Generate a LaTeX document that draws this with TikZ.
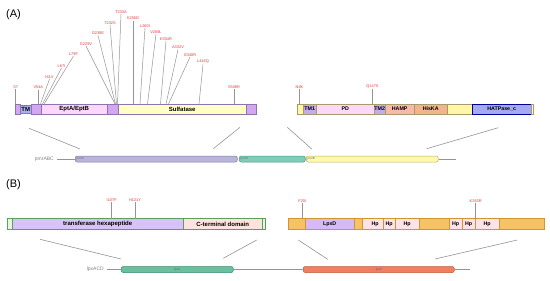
\documentclass[tikz,border=0pt]{standalone}
\usepackage{fontspec}
\setmainfont{Liberation Sans}
\definecolor{mutred}{HTML}{E23A3A}
\definecolor{linegray}{HTML}{959595}
\definecolor{purp}{HTML}{D3A6F2}
\definecolor{tmblue}{HTML}{A9B0F2}
\definecolor{pinkdom}{HTML}{FBD8FA}
\definecolor{sulf}{HTML}{FFFFC6}
\definecolor{bordA}{HTML}{8E74AE}
\definecolor{yel}{HTML}{FFF6A8}
\definecolor{tmone}{HTML}{C4AAF0}
\definecolor{hamp}{HTML}{F7B9AA}
\definecolor{hiska}{HTML}{F2B48C}
\definecolor{hatp}{HTML}{A4AAF2}
\definecolor{bordR}{HTML}{A89A6A}
\definecolor{pmrCc}{HTML}{B9B5D8}
\definecolor{pmrCd}{HTML}{7E7AAA}
\definecolor{pmrAc}{HTML}{7ECDB9}
\definecolor{pmrAd}{HTML}{4A9A88}
\definecolor{pmrBc}{HTML}{FFFAA8}
\definecolor{pmrBd}{HTML}{B8B070}
\definecolor{lgreen}{HTML}{E6F4E0}
\definecolor{gbord}{HTML}{5A9F5A}
\definecolor{transc}{HTML}{D8C2FA}
\definecolor{ctermc}{HTML}{FDE3DE}
\definecolor{orng}{HTML}{F5C265}
\definecolor{obord}{HTML}{D39530}
\definecolor{lpxDp}{HTML}{D6BAF6}
\definecolor{hpc}{HTML}{FDE2E6}
\definecolor{lpxAc}{HTML}{68C09E}
\definecolor{lpxAd}{HTML}{3A8A6C}
\definecolor{lpxDc}{HTML}{EF805F}
\definecolor{lpxDd}{HTML}{C05A3A}
\newcommand\mutn[5]{%
  \node[mutlab] (#1) at (#3,#4) {#2};
  \coordinate (#1b) at (#5,104);
  \draw[mutline] (#1.south) -- (#1b);}
\begin{document}
\begin{tikzpicture}[x=1pt,y=-1pt,
  dom/.style={anchor=west, inner sep=0pt, minimum height=10pt, line width=0.4pt,
    font=\fontsize{6}{7}\selectfont\bfseries},
  domA/.style={dom, draw=bordA},
  domR/.style={dom, draw=bordR, font=\fontsize{5.3}{6}\selectfont\bfseries},
  domG/.style={dom, minimum height=11pt, draw=gbord},
  domO/.style={dom, minimum height=11pt, draw=obord, font=\fontsize{5.3}{6}\selectfont\bfseries},
  mutlab/.style={anchor=south, inner sep=0.6pt, text=mutred, font=\fontsize{3.9}{4.5}\selectfont},
  mutline/.style={draw=linegray, line width=0.5pt},
  conn/.style={draw=linegray, line width=0.6pt},
  gene/.style={anchor=west, inner sep=0pt, minimum height=6pt, rounded corners=2pt, line width=0.5pt},
  genelab/.style={anchor=east, text=gray, font=\fontsize{5}{6}\selectfont, inner sep=1pt},
  genein/.style={anchor=west, text=black!60, font=\fontsize{3}{3.5}\selectfont, inner sep=0pt},
  panel/.style={anchor=west, font=\fontsize{11}{13}\selectfont, inner sep=0pt}]
\useasboundingbox[fill=white] (0,0) rectangle (550,281);

\node[panel] (pA) at (6,15) {(A)};
\node[panel] (pB) at (6,185) {(B)};

% ---------- pmrC protein ----------
\node[domA, fill=purp, minimum width=5pt] (c1) at (15,109) {};
\node[domA, fill=tmblue, minimum width=11pt, minimum height=8pt] (ctm) at (20,109) {TM};
\node[domA, fill=purp, minimum width=10pt] (c2) at (31,109) {};
\node[domA, fill=pinkdom, minimum width=66pt] (cept) at (41,109) {EptA/EptB};
\node[domA, fill=purp, minimum width=11pt] (c3) at (107,109) {};
\node[domA, fill=sulf, minimum width=128pt] (csul) at (118,109) {Sulfatase};
\node[domA, fill=purp, minimum width=10pt] (c4) at (246,109) {};

\mutn{m1}{S7}{15.7}{89}{15.7}
\mutn{m2}{V54A}{38.3}{89.5}{38.3}
\mutn{m3}{I61V}{49.5}{79}{40.5}
\mutn{m4}{L67I}{61.5}{68}{42.5}
\mutn{m5}{L79F}{73.5}{56}{44}
\mutn{m6}{G229V}{86}{46}{115}
\mutn{m7}{D230E}{98}{35.5}{115.5}
\mutn{m8}{T232S}{110}{25}{116.5}
\mutn{m9}{T233A}{121}{14}{117.5}
\mutn{m10}{K256D}{133}{20.5}{133}
\mutn{m11}{L260I}{145}{28}{140}
\mutn{m12}{V269L}{156}{34}{147.5}
\mutn{m13}{E304R}{166}{41}{160.5}
\mutn{m14}{A332V}{178}{49.5}{166}
\mutn{m15}{G340R}{190}{57}{168.5}
\mutn{m16}{L416Q}{203}{64.5}{199}
\mutn{m17}{S508R}{234}{89}{234}

% ---------- pmrB protein ----------
\node[domR, fill=yel, minimum width=6pt] (b1) at (297,109) {};
\node[domR, fill=tmone, minimum width=13pt] (btm1) at (303,109) {TM1};
\node[domR, fill=pinkdom, minimum width=58pt] (bpd) at (316,109) {PD};
\node[domR, fill=tmone, minimum width=11pt] (btm2) at (374,109) {TM2};
\node[domR, fill=hamp, minimum width=29pt] (bhamp) at (385,109) {HAMP};
\node[domR, fill=hiska, minimum width=33pt] (bhis) at (414,109) {HisKA};
\node[domR, fill=yel, minimum width=25pt] (b2) at (447,109) {};
\node[domR, fill=hatp, draw=blue!60!black, minimum width=59pt] (bhat) at (472,109) {HATPase\_c};
\node[domR, fill=yel!50, minimum width=2pt] (b3) at (531,109) {};

\mutn{r1}{N8K}{299.5}{89}{299.5}
\mutn{r2}{Q147S}{372.5}{89}{372.5}

% ---------- pmrCAB locus ----------
\node[gene, fill=pmrCc, draw=pmrCd, minimum width=162pt] (gC) at (75,159) {};
\node[gene, fill=pmrAc, draw=pmrAd, minimum width=66pt] (gA) at (239,159) {};
\node[gene, fill=pmrBc, draw=pmrBd, minimum width=132pt] (gB) at (306,159) {};
\node[genein] (tC) at ([xshift=1.5pt]gC.west) {pmrC};
\node[genein] (tA) at ([xshift=1.5pt]gA.west) {pmrA};
\node[genein] (tB) at ([xshift=1.5pt]gB.west) {pmrB};
\node[genelab] (lab1) at (55,159) {pmrABC};
\coordinate (e1) at (456,159);
\draw[conn] ([xshift=2pt]lab1.east) -- (gC.west);
\draw[conn] (gB.east) -- (e1);

\coordinate (k1a) at (29,128.3);  \coordinate (k1b) at (80,149);
\coordinate (k2a) at (240,127.3); \coordinate (k2b) at (213.3,148.7);
\coordinate (k3a) at (287.3,127.3); \coordinate (k3b) at (311.7,149);
\coordinate (k4a) at (498.3,127.7); \coordinate (k4b) at (426.7,148.7);
\draw[conn] (k1a) -- (k1b);
\draw[conn] (k2a) -- (k2b);
\draw[conn] (k3a) -- (k3b);
\draw[conn] (k4a) -- (k4b);

% ---------- LpxA protein ----------
\node[domG, fill=lgreen, minimum width=5pt] (a1) at (7,224) {};
\node[domG, fill=transc, minimum width=171pt] (atr) at (12,224) {transferase hexapeptide};
\node[domG, fill=ctermc, minimum width=79pt] (act) at (183,224) {C-terminal domain};
\node[domG, fill=lgreen, minimum width=3pt] (a2) at (262,224) {};

\node[mutlab] (n1) at (111.7,202) {I107F};
\coordinate (n1b) at (111.7,218.5);
\draw[mutline] (n1.south) -- (n1b);
\node[mutlab] (n2) at (135,202) {H121Y};
\coordinate (n2b) at (135,218.5);
\draw[mutline] (n2.south) -- (n2b);

% ---------- LpxD protein ----------
\node[domO, fill=orng, minimum width=17pt] (d1) at (288,224) {};
\node[domO, fill=lpxDp, minimum width=49pt] (dlpx) at (305,224) {LpxD};
\node[domO, fill=orng, minimum width=8pt] (d2) at (354,224) {};
\node[domO, fill=hpc, minimum width=21pt] (h1) at (362,224) {\hspace*{5pt}Hp};
\node[domO, fill=hpc, minimum width=12pt] (h2) at (383,224) {Hp};
\node[domO, fill=hpc, minimum width=24pt] (h3) at (395,224) {Hp};
\node[domO, fill=orng, minimum width=30pt] (d3) at (419,224) {};
\node[domO, fill=hpc, minimum width=13pt] (h4) at (449,224) {Hp};
\node[domO, fill=hpc, minimum width=13pt] (h5) at (462,224) {Hp};
\node[domO, fill=hpc, minimum width=24pt] (h6) at (475,224) {Hp};
\node[domO, fill=orng, minimum width=45pt] (d4) at (499,224) {};

\node[mutlab] (n3) at (302.3,203) {F20I};
\coordinate (n3b) at (302.3,218.5);
\draw[mutline] (n3.south) -- (n3b);
\node[mutlab] (n4) at (475.7,203) {K263R};
\coordinate (n4b) at (475.7,218.5);
\draw[mutline] (n4.south) -- (n4b);

% ---------- lpxACD locus ----------
\node[gene, fill=lpxAc, draw=lpxAd, minimum width=112pt] (gLA) at (121,269.5) {};
\node[gene, fill=lpxDc, draw=lpxDd, minimum width=151pt] (gLD) at (303,269.5) {};
\node[genein, anchor=center] (tLA) at (gLA.center) {lpxA};
\node[genein, anchor=center] (tLD) at (gLD.center) {lpxD};
\node[genelab] (lab2) at (105,269.5) {lpxACD};
\coordinate (e2) at (470,269.5);
\draw[conn] ([xshift=2pt]lab2.east) -- (gLA.west);
\draw[conn] (gLA.east) -- (gLD.west);
\draw[conn] (gLD.east) -- (e2);

\coordinate (j1a) at (40,239.3);  \coordinate (j1b) at (121,259);
\coordinate (j2a) at (256.7,240); \coordinate (j2b) at (223.3,258.3);
\coordinate (j3a) at (298.3,240); \coordinate (j3b) at (327.7,259.3);
\coordinate (j4a) at (517.3,240); \coordinate (j4b) at (435,259);
\draw[conn] (j1a) -- (j1b);
\draw[conn] (j2a) -- (j2b);
\draw[conn] (j3a) -- (j3b);
\draw[conn] (j4a) -- (j4b);
\end{tikzpicture}
\end{document}
